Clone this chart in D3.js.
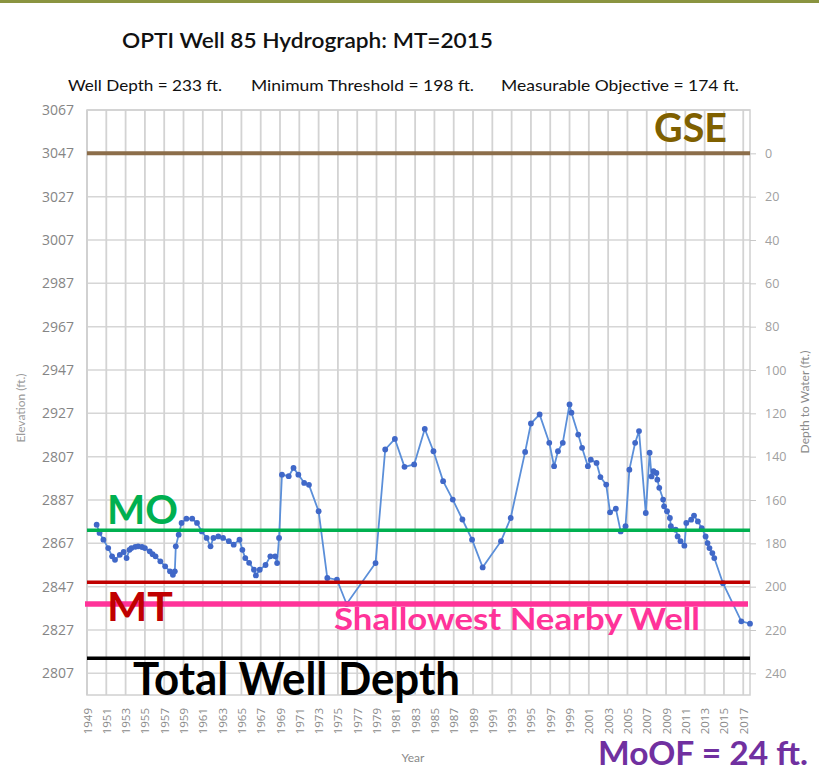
<!DOCTYPE html>
<html>
<head>
<meta charset="utf-8">
<script src="https://cdn.jsdelivr.net/npm/d3@7"></script>
<style>
  body { margin: 0; background: #fff; }
  svg { display: block; font-family: Lato, "Open Sans", sans-serif; }
</style>
</head>
<body>
<svg width="819" height="772"></svg>
<script>
// well 85 readings, year vs elevation (ft)
var years = [1950.0, 1950.3, 1950.7, 1951.2, 1951.6, 1951.9, 1952.4, 1952.8, 1953.1, 1953.4, 1953.6, 1954.0, 1954.3, 1954.7, 1955.0, 1955.5, 1955.8, 1956.1, 1956.6, 1957.1, 1957.6, 1957.9, 1958.1, 1958.2, 1958.5, 1958.8, 1959.3, 1959.9, 1960.4, 1960.9, 1961.4, 1961.8, 1962.1, 1962.6, 1963.1, 1963.7, 1964.2, 1964.8, 1965.1, 1965.4, 1965.8, 1966.3, 1966.5, 1966.9, 1967.5, 1968.0, 1968.5, 1968.7, 1968.9, 1969.2, 1969.9, 1970.4, 1970.9, 1971.5, 1972.0, 1973.0, 1973.9, 1974.9, 1975.9, 1978.9, 1979.9, 1980.9, 1981.9, 1982.9, 1984.0, 1984.9, 1985.9, 1986.9, 1987.9, 1988.9, 1990.0, 1991.9, 1992.9, 1994.4, 1995.0, 1995.9, 1996.9, 1997.4, 1997.8, 1998.3, 1999.0, 1999.2, 1999.9, 2000.3, 2000.9, 2001.2, 2001.8, 2002.2, 2002.8, 2003.2, 2003.8, 2004.3, 2004.8, 2005.2, 2005.8, 2006.2, 2006.9, 2007.3, 2007.5, 2007.7, 2008.0, 2008.1, 2008.3, 2008.7, 2008.8, 2009.1, 2009.4, 2009.5, 2010.0, 2010.2, 2010.5, 2010.9, 2011.1, 2011.6, 2011.9, 2012.3, 2012.7, 2013.1, 2013.3, 2013.5, 2013.8, 2014.0, 2014.9, 2016.8, 2017.7];
var elevations = [2875.6, 2871.8, 2868.7, 2864.8, 2861.0, 2859.4, 2861.7, 2863.0, 2860.2, 2864.0, 2864.8, 2865.4, 2865.6, 2865.3, 2864.8, 2863.3, 2862.0, 2861.0, 2858.7, 2856.4, 2854.1, 2852.5, 2854.1, 2865.6, 2871.0, 2876.4, 2878.4, 2878.4, 2876.4, 2872.5, 2869.5, 2865.6, 2869.5, 2870.2, 2869.5, 2868.0, 2866.4, 2868.7, 2864.0, 2860.2, 2858.0, 2854.8, 2852.2, 2854.8, 2857.0, 2861.0, 2861.0, 2857.9, 2869.5, 2898.7, 2898.0, 2901.8, 2898.7, 2894.9, 2894.0, 2881.8, 2851.0, 2850.2, 2839.0, 2857.9, 2910.3, 2915.2, 2902.3, 2903.4, 2919.8, 2909.5, 2895.7, 2887.2, 2878.0, 2868.7, 2855.9, 2868.0, 2878.7, 2909.2, 2922.3, 2926.5, 2913.4, 2902.6, 2909.5, 2913.4, 2931.1, 2927.3, 2917.2, 2911.1, 2902.6, 2905.6, 2904.1, 2897.6, 2894.1, 2881.3, 2883.0, 2872.5, 2874.9, 2901.0, 2913.4, 2918.8, 2881.0, 2908.8, 2897.9, 2900.3, 2899.5, 2896.4, 2892.6, 2887.2, 2884.1, 2881.8, 2878.7, 2874.9, 2873.3, 2870.2, 2868.0, 2865.9, 2876.4, 2877.9, 2879.8, 2877.1, 2874.0, 2870.2, 2867.1, 2864.8, 2862.5, 2860.2, 2848.6, 2831.0, 2829.9];

var gse = 3047;
// reference depths below ground surface (ft)
var refNames = ['GSE', 'MO', 'MT', 'Shallowest Nearby Well', 'Total Well Depth'];
var refDepths = [0, 174, 198, 208, 233];

var yearTicks = d3.range(1949, 2018, 2);
var depthTicks = d3.range(0, 241, 20);
var elevTicks = d3.range(3067, 2806, -20);
var elevLabels = ['3067', '3047', '3027', '3007', '2987', '2967', '2947', '2927', '2807', '2887', '2867', '2847', '2827', '2807'];

var plotL = 87, plotR = 750, plotT = 110, plotB = 695;

var svg = d3.select('svg');

var x = d3.scaleLinear().domain([1949, 2017.7]).range([plotL, plotR]);
var y = d3.scaleLinear().domain([gse - 250, gse + 20]).range([plotB, plotT]);
var depth = d3.scaleLinear().domain([-20, 250]).range([plotT, plotB]);

// slide strip on top
svg.append('rect').attr('x', 0).attr('y', 0).attr('width', 819).attr('height', 3).attr('fill', '#8a9440');

svg.append('text')
    .text('OPTI Well 85 Hydrograph: MT=2015')
    .attr('x', 122).attr('y', 48)
    .attr('textLength', 371).attr('lengthAdjust', 'spacingAndGlyphs')
    .style('font-size', '21px').style('font-weight', 600).attr('fill', '#111');

var subs = [['Well Depth = 233 ft.', 68, 154], ['Minimum Threshold = 198 ft.', 251, 223], ['Measurable Objective = 174 ft.', 501, 238]];
svg.selectAll('.sub').data(subs).enter().append('text')
    .attr('class', 'sub')
    .text(d => d[0])
    .attr('x', d => d[1]).attr('y', 91)
    .attr('textLength', d => d[2]).attr('lengthAdjust', 'spacingAndGlyphs')
    .style('font-size', '16px').attr('fill', '#111');

// grid
svg.append('g').selectAll('line').data(elevTicks).enter().append('line')
    .attr('x1', plotL).attr('x2', plotR)
    .attr('y1', d => y(d)).attr('y2', d => y(d))
    .attr('stroke', '#d6d6d6').attr('stroke-width', 1.5);
svg.append('g').selectAll('line').data(yearTicks).enter().append('line')
    .attr('x1', d => x(d)).attr('x2', d => x(d))
    .attr('y1', plotT).attr('y2', plotB)
    .attr('stroke', '#d3d3d3').attr('stroke-width', 1.8);
svg.append('rect')
    .attr('x', plotL).attr('y', plotT).attr('width', plotR - plotL).attr('height', plotB - plotT)
    .attr('fill', 'none').attr('stroke', '#d0d0d0').attr('stroke-width', 1.5);

// left elevation labels
var ax = svg.append('g')
    .attr('transform', 'translate(' + (plotL - 10) + ',0)')
    .call(d3.axisLeft(y).tickValues(elevTicks).tickFormat((d, i) => elevLabels[i]).tickSize(0));
ax.select('.domain').remove();
ax.selectAll('text').attr('fill', '#858585').style('font-size', '14px').style('font-family', '"Open Sans", sans-serif');

// right depth axis
var ar = svg.append('g')
    .attr('transform', 'translate(' + plotR + ',0)')
    .call(d3.axisRight(depth).tickValues(depthTicks).tickSize(6).tickPadding(9));
ar.select('.domain').remove();
ar.selectAll('line').attr('stroke', '#c8c8c8');
ar.selectAll('text').attr('fill', '#a0a0a0').style('font-size', '12.5px').style('font-family', '"Open Sans", sans-serif');

// year axis
var ab = svg.append('g')
    .attr('transform', 'translate(0,' + plotB + ')')
    .call(d3.axisBottom(x).tickValues(yearTicks).tickFormat(d3.format('d')).tickSize(0));
ab.select('.domain').remove();
ab.selectAll('text')
    .attr('transform', 'rotate(-90)')
    .attr('x', -13).attr('y', 0).attr('dy', '0.35em')
    .style('text-anchor', 'end')
    .attr('fill', '#8a8a8a').style('font-size', '11.5px').style('font-family', '"Open Sans", sans-serif');

svg.append('text').text('Year')
    .attr('x', 413).attr('y', 762).style('text-anchor', 'middle')
    .style('font-size', '12px').attr('fill', '#8a8a8a');
svg.append('text').text('Elevation (ft.)')
    .attr('transform', 'translate(25,408) rotate(-90)').style('text-anchor', 'middle')
    .style('font-size', '12px').attr('fill', '#9a9a9a');
svg.append('text').text('Depth to Water (ft.)')
    .attr('transform', 'translate(809,402) rotate(-90)').style('text-anchor', 'middle')
    .style('font-size', '12px').attr('fill', '#8a8a8a');

// hydrograph
var pts = years.map((d, i) => ({year: d, elev: elevations[i]}));
var line = d3.line().x(d => x(d.year)).y(d => y(d.elev));
svg.append('path').datum(pts)
    .attr('d', line)
    .attr('fill', 'none').attr('stroke', '#5b8fd9').attr('stroke-width', 1.8);
svg.append('g').selectAll('circle').data(pts).enter().append('circle')
    .attr('cx', d => x(d.year)).attr('cy', d => y(d.elev)).attr('r', 2.9)
    .attr('fill', '#4068c8');

// reference lines drawn over the series
var refColors = ['#8c6e4a', '#00b050', '#c00000', '#ff3399', '#000000'];
var refWidths = [4, 3.5, 3.5, 5.5, 3.5];
svg.append('g').selectAll('line').data(refDepths).enter().append('line')
    .attr('x1', (d, i) => i === 3 ? plotL - 2 : plotL)
    .attr('x2', (d, i) => i === 3 ? plotR - 2 : plotR)
    .attr('y1', d => depth(d)).attr('y2', d => depth(d))
    .attr('stroke', (d, i) => refColors[i])
    .attr('stroke-width', (d, i) => refWidths[i]);

// big labels
var notes = [
  ['GSE', 654, 142, 73, 40, '#7f6000'],
  ['MO', 107, 524, 71, 40, '#00b050'],
  ['MT', 107, 621, 66, 40, '#c00000'],
  ['Shallowest Nearby Well', 334, 630, 366, 31, '#ff3399'],
  ['Total Well Depth', 133, 695, 327, 45, '#000000'],
  ['MoOF = 24 ft.', 598, 765, 210, 33, '#7030a0']
];
svg.selectAll('.note').data(notes).enter().append('text')
    .attr('class', 'note')
    .text(d => d[0])
    .attr('x', d => d[1]).attr('y', d => d[2])
    .attr('textLength', d => d[3]).attr('lengthAdjust', 'spacingAndGlyphs')
    .style('font-size', d => d[4] + 'px').style('font-weight', 'bold')
    .attr('fill', d => d[5]);
</script>
</body>
</html>
